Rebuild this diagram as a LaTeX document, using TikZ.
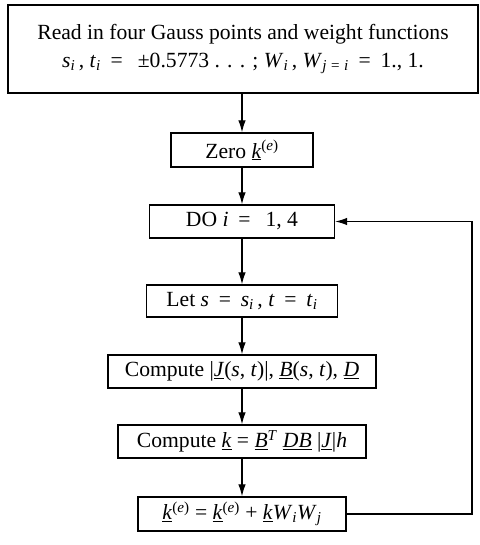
\documentclass[tikz,border=0pt]{standalone}
\usepackage{fontspec}
\setmainfont{Liberation Serif}
\usetikzlibrary{arrows.meta}
\newcommand\itx[1]{\textit{#1}}
\newcommand\sbx[1]{\textsubscript{\textit{#1}}}
\newcommand\ulx[1]{\underline{\textit{#1}}}
\newcommand\spx[1]{\textsuperscript{#1}}
\newcommand\eqx{\hspace{0.45em}=\hspace{0.45em}}
\begin{document}
\begin{tikzpicture}[x=1bp,y=-1bp,
  box/.style={draw, line width=1.3bp, minimum height=33bp, inner sep=0pt, font=\fontsize{21.7}{26}\selectfont},
  arr/.style={line width=1.2bp, -{Latex[length=12bp,width=7.5bp]}}]
\path[use as bounding box, fill=white] (0,0) rectangle (480,545);
\node[box, minimum width=470bp, minimum height=88bp, align=center, font=\fontsize{21.7}{28}\selectfont] (read) at (243,49)
  {Read in four Gauss points and weight functions\\
   \itx{s}\sbx{i}\,, \itx{t}\sbx{i}\eqx{}\ ±0.5773 . . . ; \itx{W}\sbx{i}\,, \itx{W}\sbx{j = i}\eqx{}1., 1.};
\node[box, minimum width=142bp, minimum height=34bp] (zero) at (242,150) {Zero \ulx{k}\spx{(\itx{e})}};
\node[box, minimum width=185bp] (do) at (242,221.5) {DO \itx{i}\eqx{}\ 1, 4};
\node[box, minimum width=191bp, minimum height=32bp] (let) at (242,301) {Let \itx{s}\eqx{}\itx{s}\sbx{i}\,, \itx{t}\eqx{}\itx{t}\sbx{i}};
\node[box, minimum width=268bp] (cj) at (242,371.5) {Compute |\ulx{J}(\itx{s}, \itx{t})|, \ulx{B}(\itx{s}, \itx{t}), \ulx{D}};
\node[box, minimum width=248bp] (ck) at (242,441.5) {Compute \ulx{k} = \ulx{B}\spx{\itx{T}} \ulx{D}\ulx{B} |\ulx{J}|\itx{h}};
\node[box, minimum width=208bp, minimum height=34bp] (last) at (242,514) {\ulx{k}\spx{(\itx{e})} = \ulx{k}\spx{(\itx{e})} + \ulx{k}\itx{W}\sbx{i}\itx{W}\sbx{j}};
\coordinate (c1) at (472,514);
\coordinate (c2) at (472,221.5);
\draw[arr] (read.south -| zero.north) -- (zero.north);
\draw[arr] (zero.south) -- (do.north);
\draw[arr] (do.south) -- (let.north);
\draw[arr] (let.south) -- (cj.north);
\draw[arr] (cj.south) -- (ck.north);
\draw[arr] (ck.south) -- (last.north);
\draw[arr] (last.east) -- (c1) -- (c2) -- (do.east);
\end{tikzpicture}
\end{document}
